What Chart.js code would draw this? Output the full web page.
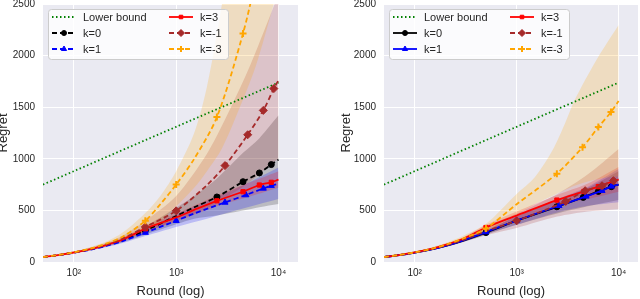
<!DOCTYPE html>
<html>
<head>
<meta charset="utf-8">
<script src="https://cdn.jsdelivr.net/npm/chart.js"></script>
<style>
html, body { margin: 0; padding: 0; background: #fff; }
#wrap { width: 640px; height: 299px; position: relative; }
.panel { position: absolute; top: 0; width: 320px; height: 299px; }
</style>
</head>
<body>
<div id="wrap">
  <div class="panel" style="left:0"><canvas id="left" width="320" height="299"></canvas></div>
  <div class="panel" style="left:320px"><canvas id="right" width="320" height="299"></canvas></div>
</div>
<script>
// axis ticks
const X_TICKS = [100, 1000, 10000];
const X_TICK_LABELS = ["10\u00b2", "10\u00b3", "10\u2074"];
const Y_TICKS = [0, 500, 1000, 1500, 2000, 2500];

// lower bound (same in both panels)
const LB_X = [50, 100, 1000, 10000];
const LB_Y = [750, 880, 1310, 1738];

// ---- left panel ----
const L_K0_X = [50, 70, 100, 150, 200, 300, 500, 1000, 1500, 2500, 4500, 6500, 8500, 10000];
const L_K0_Y = [48, 66, 92, 126, 158, 212, 305, 445, 530, 630, 778, 863, 944, 992];
const L_K0_MARK = [500, 2500, 4500, 6500, 8500];
const L_K0_BX = [50, 100, 200, 300, 500, 1000, 1500, 2500, 4500, 6500, 10000];
const L_K0_HI = [50, 97, 170, 232, 345, 525, 640, 810, 1058, 1200, 1422];
const L_K0_LO = [46, 87, 146, 192, 265, 365, 420, 450, 498, 530, 562];

const L_K1_X = [50, 70, 100, 150, 200, 300, 500, 1000, 1500, 3000, 4800, 7100, 8500, 10000];
const L_K1_Y = [48, 66, 90, 122, 152, 203, 285, 400, 470, 577, 649, 713, 740, 756];
const L_K1_MARK = [500, 1000, 3000, 4800, 7100, 8500];
const L_K1_BX = [50, 100, 200, 300, 500, 1000, 2000, 3000, 5000, 10000];
const L_K1_HI = [50, 95, 166, 222, 318, 460, 590, 665, 765, 915];
const L_K1_LO = [46, 86, 140, 184, 252, 340, 420, 470, 530, 610];

const L_K3_X = [50, 70, 100, 150, 200, 300, 500, 1000, 1500, 2500, 4500, 6500, 8500, 10000];
const L_K3_Y = [48, 67, 92, 128, 160, 218, 322, 432, 505, 593, 681, 746, 772, 798];
const L_K3_MARK = [500, 2500, 4500, 6500, 8500];
const L_K3_BX = [50, 100, 200, 300, 500, 1000, 2500, 4500, 10000];
const L_K3_HI = [50, 96, 172, 238, 350, 470, 645, 745, 880];
const L_K3_LO = [46, 88, 148, 198, 294, 392, 540, 615, 720];

const L_KM1_X = [50, 70, 100, 150, 200, 300, 500, 1000, 2000, 3000, 5000, 7100, 9000, 10000];
const L_KM1_Y = [48, 67, 93, 130, 165, 228, 340, 496, 745, 934, 1233, 1469, 1680, 1761];
const L_KM1_MARK = [500, 1000, 3000, 5000, 7100, 9000];
const L_KM1_BX = [50, 100, 200, 300, 500, 1000, 2000, 3000, 5000, 8000, 10000];
const L_KM1_HI = [51, 98, 182, 255, 400, 640, 1050, 1380, 1850, 2350, 2600];
const L_KM1_LO = [46, 88, 152, 205, 290, 400, 520, 620, 760, 930, 1000];

const L_KM3_X = [50, 70, 100, 150, 200, 300, 500, 700, 1000, 1500, 2500, 4500, 6000, 10000];
const L_KM3_Y = [48, 68, 94, 134, 172, 245, 400, 560, 750, 1000, 1404, 2215, 2750, 3900];
const L_KM3_MARK = [500, 1000, 2500, 4500];
const L_KM3_BX = [50, 100, 200, 300, 500, 700, 1000, 1500, 2000, 2800, 4000, 6000, 9000, 10000];
const L_KM3_HI = [52, 102, 192, 285, 475, 640, 880, 1250, 1700, 2500, 3600, 5000, 6500, 7000];
const L_KM3_LO = [45, 86, 150, 200, 310, 400, 540, 720, 880, 1100, 1450, 1900, 2500, 2650];

// ---- right panel ----
const R_K0_X = [50, 70, 100, 150, 200, 300, 500, 1000, 2480, 4500, 6330, 8500, 10000];
const R_K0_Y = [48, 66, 91, 125, 156, 208, 285, 400, 535, 626, 684, 730, 750];
const R_K0_MARK = [500, 2480, 4500, 6330, 8500];
const R_K1_X = [50, 70, 100, 150, 200, 300, 500, 1000, 2600, 4800, 6880, 8500, 10000];
const R_K1_Y = [48, 66, 91, 125, 157, 210, 290, 402, 545, 636, 691, 733, 750];
const R_K1_MARK = [500, 1000, 2600, 4800, 6880, 8500];
const R_K3_X = [50, 70, 100, 150, 200, 300, 500, 1000, 2480, 4570, 6330, 8900, 10000];
const R_K3_Y = [48, 67, 93, 130, 165, 225, 334, 450, 600, 684, 730, 785, 798];
const R_K3_MARK = [500, 2480, 4570, 6330, 8900];
const R_KM1_X = [50, 70, 100, 150, 200, 300, 500, 1000, 3030, 4700, 6880, 8900, 10000];
const R_KM1_Y = [48, 67, 92, 128, 160, 215, 300, 399, 587, 691, 739, 788, 800];
const R_KM1_MARK = [1000, 3030, 4700, 6880, 8900];
const R_KM3_X = [50, 70, 100, 150, 200, 300, 500, 1000, 2480, 4430, 6330, 8420, 10000];
const R_KM3_Y = [48, 68, 93, 130, 166, 228, 325, 560, 856, 1112, 1307, 1453, 1560];
const R_KM3_MARK = [500, 2480, 4430, 6330, 8420];

const R_BX = [50, 100, 200, 300, 500, 1000, 2500, 5000, 10000];
const R_K0_HI = [50, 95, 166, 222, 305, 440, 600, 720, 880];
const R_K0_LO = [46, 87, 146, 194, 265, 360, 470, 540, 600];
const R_K1_HI = [50, 95, 167, 224, 310, 445, 610, 730, 900];
const R_K1_LO = [46, 87, 147, 196, 270, 360, 480, 545, 580];
const R_K3_HI = [51, 97, 176, 240, 360, 490, 650, 760, 920];
const R_K3_LO = [46, 89, 154, 210, 310, 410, 550, 610, 680];
const R_KM1_HI = [51, 97, 174, 235, 345, 470, 660, 850, 1096];
const R_KM1_LO = [46, 87, 146, 195, 260, 330, 440, 490, 512];
const R_KM3_BX = [50, 100, 200, 300, 500, 1000, 1500, 2240, 3000, 3700, 6000, 10000];
const R_KM3_HI = [52, 100, 185, 255, 370, 660, 820, 1080, 1350, 1567, 1950, 2296];
const R_KM3_LO = [45, 86, 148, 200, 285, 460, 560, 640, 700, 740, 800, 830];

const FONT = '"Liberation Sans", Arial, sans-serif';
const TEXT = "#262626";
const DASH = [5, 3];
const DOT = [1.5, 2.5];

function pts(xs, ys) {
    return xs.map((x, i) => ({ x, y: ys[i] }));
}

function line(label, xs, ys, marks, color, dash, style, r, rank) {
    return {
        label,
        data: pts(xs, ys),
        borderColor: color,
        backgroundColor: color,
        borderWidth: 1.8,
        borderDash: dash,
        borderCapStyle: "butt",
        fill: false,
        tension: 0.3,
        pointStyle: style,
        pointBackgroundColor: color,
        pointBorderColor: color,
        pointBorderWidth: style === "cross" ? 2 : 1,
        pointRadius: (c) => (marks.includes(c.raw.x) ? r : 0),
        legendRank: rank,
        legendPoint: r
    };
}

function band(xs, hi, lo, fillColor) {
    return [
        { data: pts(xs, hi), fill: "+1", backgroundColor: fillColor, borderWidth: 0, pointRadius: 0, tension: 0.3 },
        { data: pts(xs, lo), fill: false, borderWidth: 0, pointRadius: 0, tension: 0.3 }
    ];
}

const backgroundPlugin = {
    id: "darkgrid",
    beforeDraw(chart) {
        const { ctx, chartArea: a } = chart;
        ctx.save();
        ctx.fillStyle = "#EAEAF2";
        ctx.fillRect(a.left, a.top, a.right - a.left, a.bottom - a.top);
        ctx.restore();
    }
};

const legendPlugin = {
    id: "boxLegend",
    afterDraw(chart) {
        const ctx = chart.ctx;
        const a = chart.chartArea;
        const items = chart.data.datasets
            .filter((d) => d.legendRank !== undefined)
            .sort((p, q) => p.legendRank - q.legendRank);
        const bx = a.left + 5, by = 9, bw = 180, bh = 50;
        ctx.save();
        ctx.beginPath();
        ctx.roundRect(bx + 0.5, by + 0.5, bw, bh, 3);
        ctx.fillStyle = "rgba(255,255,255,0.8)";
        ctx.fill();
        ctx.strokeStyle = "#cccccc";
        ctx.lineWidth = 1;
        ctx.stroke();
        items.forEach((d, i) => {
            const col = Math.floor(i / 3), row = i % 3;
            const sx = bx + 4 + col * 117, sy = by + 8 + row * 16;
            ctx.setLineDash(d.borderDash || []);
            ctx.strokeStyle = d.borderColor;
            ctx.lineWidth = d.borderWidth;
            ctx.beginPath();
            ctx.moveTo(sx, sy);
            ctx.lineTo(sx + 24, sy);
            ctx.stroke();
            ctx.setLineDash([]);
            if (d.pointStyle) {
                ctx.fillStyle = d.borderColor;
                ctx.strokeStyle = d.borderColor;
                ctx.lineWidth = d.pointBorderWidth;
                Chart.helpers.drawPoint(ctx, {
                    pointStyle: d.pointStyle, rotation: 0,
                    radius: d.legendPoint - 0.5, borderWidth: d.pointBorderWidth
                }, sx + 12, sy);
            }
            ctx.fillStyle = TEXT;
            ctx.font = "11px " + FONT;
            ctx.textBaseline = "middle";
            ctx.fillText(d.label, sx + 31, sy + 0.5);
        });
        ctx.restore();
    }
};

function buildChart(id, lines, bands, cfg) {
    const datasets = lines.slice().reverse().concat(...bands.slice().reverse());
    return new Chart(document.getElementById(id), {
        type: "line",
        data: { datasets },
        options: {
            responsive: false,
            animation: false,
            events: [],
            layout: { padding: { left: 0, right: cfg.padRight, top: 0, bottom: 0 } },
            plugins: {
                legend: { display: false },
                tooltip: { enabled: false },
                filler: { drawTime: "beforeDatasetsDraw" }
            },
            scales: {
                x: {
                    type: "logarithmic",
                    min: 50,
                    max: 15500,
                    afterBuildTicks: (s) => { s.ticks = X_TICKS.map((v) => ({ value: v })); },
                    afterFit: (s) => { s.height = 37; s.paddingLeft = 0; s.paddingRight = 0; },
                    ticks: {
                        autoSkip: false, maxRotation: 0, padding: 5,
                        color: TEXT, font: { family: FONT, size: 10 },
                        callback: (v) => X_TICK_LABELS[X_TICKS.indexOf(v)]
                    },
                    grid: { color: "#ffffff", lineWidth: 1, drawTicks: false },
                    border: { display: false },
                    title: {
                        display: true, text: "Round (log)", color: TEXT,
                        font: { family: FONT, size: 13 }, padding: { top: 0, bottom: 0 }
                    }
                },
                y: {
                    min: 0,
                    max: 2500,
                    afterBuildTicks: (s) => { s.ticks = Y_TICKS.map((v) => ({ value: v })); },
                    afterFit: (s) => { s.width = cfg.yWidth; s.paddingTop = 4; },
                    ticks: {
                        padding: 8, color: TEXT, font: { family: FONT, size: 10 },
                        callback: (v) => String(v)
                    },
                    grid: { color: "#ffffff", lineWidth: 1, drawTicks: false },
                    border: { display: false },
                    title: {
                        display: true, text: "Regret", color: TEXT,
                        font: { family: FONT, size: 13 }, padding: { top: cfg.titlePad, bottom: 0 }
                    }
                }
            }
        },
        plugins: [backgroundPlugin, legendPlugin]
    });
}

const GREEN = "#008000", BLACK = "#000000", BLUE = "#0000ff", RED = "#ff0000", BROWN = "#a52a2a", ORANGE = "#ffa500";
const F_BLACK = "rgba(0,0,0,0.2)", F_BLUE = "rgba(0,0,255,0.2)", F_RED = "rgba(255,0,0,0.2)",
      F_BROWN = "rgba(165,42,42,0.2)", F_ORANGE = "rgba(255,165,0,0.2)";

buildChart("left", [
    line("Lower bound", LB_X, LB_Y, [], GREEN, DOT, false, 0, 0),
    line("k=0", L_K0_X, L_K0_Y, L_K0_MARK, BLACK, DASH, "circle", 3, 1),
    line("k=1", L_K1_X, L_K1_Y, L_K1_MARK, BLUE, DASH, "triangle", 3.5, 2),
    line("k=3", L_K3_X, L_K3_Y, L_K3_MARK, RED, [], "rect", 3, 3),
    line("k=-1", L_KM1_X, L_KM1_Y, L_KM1_MARK, BROWN, DASH, "rectRot", 4, 4),
    line("k=-3", L_KM3_X, L_KM3_Y, L_KM3_MARK, ORANGE, DASH, "cross", 3.5, 5)
], [
    band(L_K0_BX, L_K0_HI, L_K0_LO, F_BLACK),
    band(L_K1_BX, L_K1_HI, L_K1_LO, F_BLUE),
    band(L_K3_BX, L_K3_HI, L_K3_LO, F_RED),
    band(L_KM1_BX, L_KM1_HI, L_KM1_LO, F_BROWN),
    band(L_KM3_BX, L_KM3_HI, L_KM3_LO, F_ORANGE)
], { yWidth: 43, titlePad: -4, padRight: 22 });

buildChart("right", [
    line("Lower bound", LB_X, LB_Y, [], GREEN, DOT, false, 0, 0),
    line("k=0", R_K0_X, R_K0_Y, R_K0_MARK, BLACK, [], "circle", 3, 1),
    line("k=1", R_K1_X, R_K1_Y, R_K1_MARK, BLUE, [], "triangle", 3.5, 2),
    line("k=3", R_K3_X, R_K3_Y, R_K3_MARK, RED, [], "rect", 3, 3),
    line("k=-1", R_KM1_X, R_KM1_Y, R_KM1_MARK, BROWN, DASH, "rectRot", 4, 4),
    line("k=-3", R_KM3_X, R_KM3_Y, R_KM3_MARK, ORANGE, DASH, "cross", 3.5, 5)
], [
    band(R_BX, R_K0_HI, R_K0_LO, F_BLACK),
    band(R_BX, R_K1_HI, R_K1_LO, F_BLUE),
    band(R_BX, R_K3_HI, R_K3_LO, F_RED),
    band(R_BX, R_KM1_HI, R_KM1_LO, F_BROWN),
    band(R_KM3_BX, R_KM3_HI, R_KM3_LO, F_ORANGE)
], { yWidth: 64, titlePad: 19, padRight: 2 });
</script>
</body>
</html>
